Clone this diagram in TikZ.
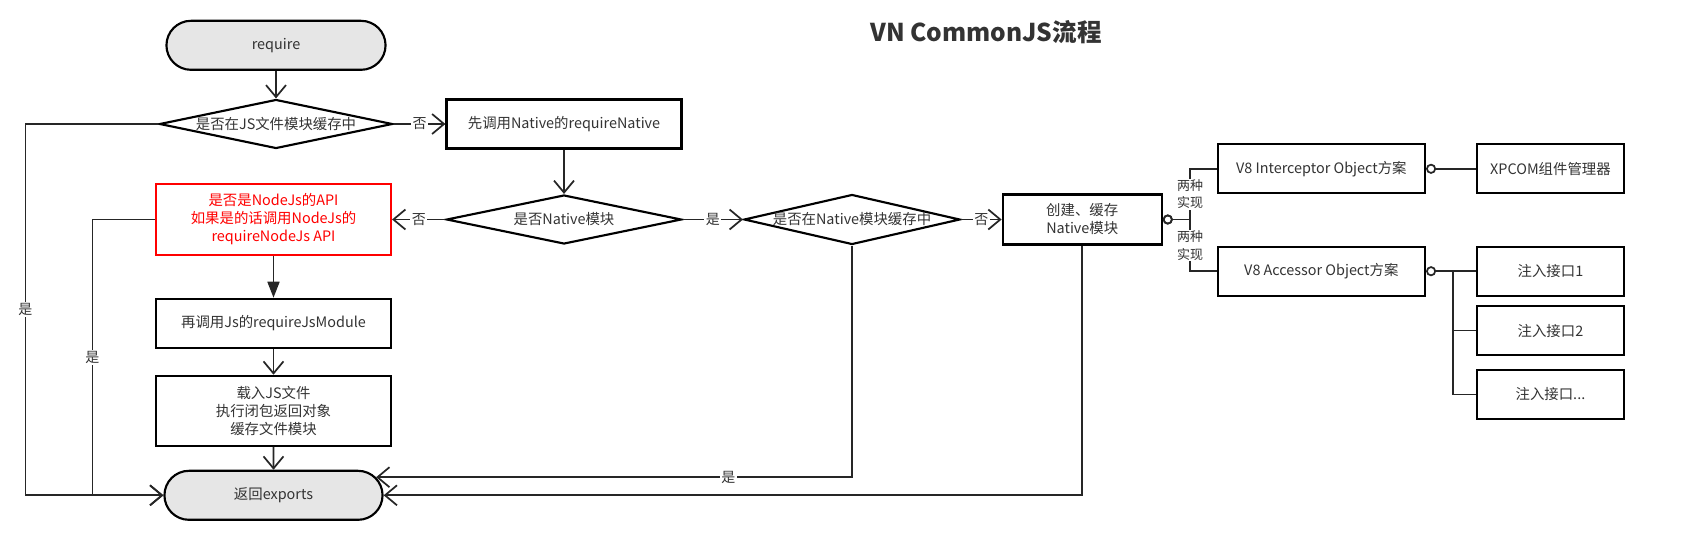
\documentclass[tikz,border=0pt]{standalone}
\usepackage{fontspec}
\setmainfont{Noto Sans CJK SC}
\usepackage{xcolor}
\usepackage{tikz}
\usetikzlibrary{positioning}
\usetikzlibrary{shapes.geometric,shapes.misc}
\usetikzlibrary{arrows.meta}
\definecolor{txtgray}{HTML}{333333}
\definecolor{linegray}{HTML}{262626}
\definecolor{pillgray}{HTML}{E6E6E6}
\definecolor{warnred}{HTML}{FF0000}

\tikzset{
	box/.style={rectangle,draw=black,line width=1.6pt,text=txtgray,align=center,minimum height=36.75pt,inner sep=2pt},
	pill/.style={rounded rectangle,draw=black,line width=1.6pt,fill=pillgray,text=txtgray,minimum height=36.75pt},
	ask/.style={diamond,draw=black,line width=1.6pt,text=txtgray,inner sep=0pt,inner xsep=-20pt,shape aspect=4.75,minimum height=36.75pt},
	flow/.style={draw=linegray,line width=1.3pt},
	go/.style={flow,-{Straight Barb[length=9pt,width=15pt]}},
	push/.style={flow,-{Triangle[length=12pt,width=9pt]}},
	plug/.style={flow,{Circle[open,length=7.5pt,width=7.5pt]}-},
	tag/.style={fill=white,text=txtgray,inner sep=1pt,font=\fontsize{10.5pt}{12pt}\selectfont},
	duo/.style={fill=white,text=txtgray,inner sep=0.5pt,align=center,font=\fontsize{9.75pt}{13.2pt}\selectfont}
}

\begin{document}
\begin{tikzpicture}[x=0.75pt,y=-0.75pt,every node/.append style={font=\fontsize{10.8pt}{13.5pt}\selectfont}]
		\useasboundingbox (0,0) rectangle (1684,540);
		\node[text=txtgray,font=\fontsize{18.4pt}{22pt}\selectfont\bfseries] (title) at (986,32) {VN CommonJS流程};
		\node[pill,minimum width=171pt] (req) at (276,45.3) {require};
		\node[ask,minimum width=174.75pt] (d1) at (276,124) {是否在JS文件模块缓存中};
		\node[box,minimum width=176.25pt] (nat) at (564,124) {先调用Native的requireNative};
		\node[ask,minimum width=176.25pt] (d2) at (564,219.5) {是否Native模块};
		\node[box,draw=warnred,text=warnred,minimum width=176.25pt,minimum height=53.25pt] (api) at (273.5,219.5) {是否是NodeJs的API\\如果是的话调用NodeJs的\\requireNodeJs API};
		\node[box,minimum width=176.25pt] (jsmod) at (273.5,323.3) {再调用Js的requireJsModule};
		\node[box,minimum width=176.25pt,minimum height=52.5pt] (load) at (273.5,410.8) {载入JS文件\\执行闭包返回对象\\缓存文件模块};
		\node[pill,minimum width=170.25pt] (exp) at (273.5,495.3) {返回exports};
		\node[ask,minimum width=162pt,minimum height=37.5pt] (d3) at (852,219.5) {是否在Native模块缓存中};
		\node[box,minimum width=119.25pt,minimum height=37.5pt] (make) at (1082.2,219.5) {创建、缓存\\Native模块};
		\node[box,minimum width=155.5pt] (icpt) at (1321.3,168.8) {V8 Interceptor Object方案};
		\node[box,minimum width=110pt,right=37.5pt of icpt] (xpcom) {XPCOM组件管理器};
		\node[box,minimum width=155.5pt] (acc) at (1321.3,271.2) {V8 Accessor Object方案};
		\node[box,minimum width=110pt,right=37.5pt of acc] (inj1) {注入接口1};
		\node[box,minimum width=110pt,below=6.2pt of inj1] (inj2) {注入接口2};
		\node[box,minimum width=110pt,below=9.5pt of inj2] (inj3) {注入接口...};

		\coordinate (c1) at (25.4,124);
		\coordinate (c2) at (92.4,219.5);
		\coordinate (cj) at (1190,219.5);
		\coordinate (ij) at (1453,271.2);

		\draw[go] (req) -- (d1);
		\draw[go] (d1) -- node[tag] {否} (nat);
		\draw[go] (nat) -- (d2);
		\draw[go] (d2) -- node[tag] {否} (api);
		\draw[go] (d2) -- node[tag] {是} (d3);
		\draw[go] (d3) -- node[tag] {否} (make);
		\draw[push] (api) -- (jsmod);
		\draw[go] (jsmod) -- (load);
		\draw[go] (load) -- (exp);
		\draw[go] (d1.west) -- (c1) |- node[pos=0.25,tag] {是} (exp.west);
		\draw[go] (api.west) -- (c2) |- node[pos=0.25,tag] {是} (exp.west);
		\draw[go] (d3.south) |- node[pos=0.63,tag] {是} (exp.10);
		\draw[go] (make.south) |- (exp.east);

		\draw[plug] (make.east) -- (cj) |- node[pos=0.25,duo] {两种\\实现} (icpt.west);
		\draw[plug] (make.east) -- (cj) |- node[pos=0.25,duo] {两种\\实现} (acc.west);
		\draw[plug] (icpt) -- (xpcom);
		\draw[plug] (acc.east) -- (ij) -- (inj1.west);
		\draw[flow] (ij) |- (inj2.west);
		\draw[flow] (ij) |- (inj3.west);
	\end{tikzpicture}
\end{document}
